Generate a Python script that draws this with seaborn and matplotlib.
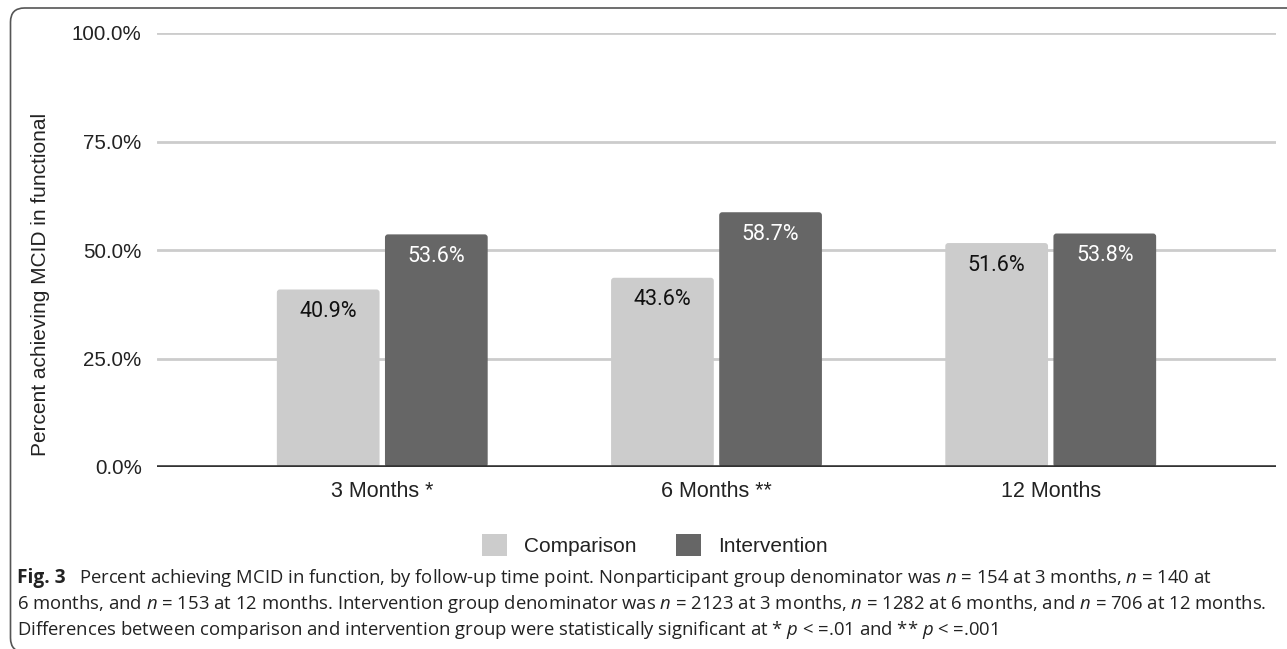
import matplotlib
matplotlib.use("Agg")
import matplotlib.pyplot as plt
import matplotlib.patches as mpatches
from matplotlib.transforms import IdentityTransform
import seaborn as sns
import pandas as pd

# ---- data -------------------------------------------------------------
timepoints = ["3 Months *", "6 Months **", "12 Months"]
groups = ["Comparison", "Intervention"]
comparison_pct = [40.9, 43.6, 51.6]
intervention_pct = [53.6, 58.7, 53.8]
y_ticks = [0, 25, 50, 75, 100]
y_label = "Percent achieving MCID in functional"

colors = {"Comparison": "#cccccc", "Intervention": "#666666"}
label_colors = {"Comparison": "#111111", "Intervention": "#ffffff"}

df = pd.DataFrame({
    "timepoint": timepoints * 2,
    "group": [groups[0]] * 3 + [groups[1]] * 3,
    "pct": comparison_pct + intervention_pct,
})

# ---- figure -----------------------------------------------------------
sns.set_theme(style="white")
plt.rcParams["font.family"] = ["Liberation Sans", "DejaVu Sans"]
plt.rcParams["mathtext.fontset"] = "custom"
plt.rcParams["mathtext.it"] = "Open Sans:italic"
plt.rcParams["mathtext.rm"] = "Open Sans"

W, H = 1287, 649
fig = plt.figure(figsize=(W / 100, H / 100), dpi=100)
ax = fig.add_axes([157 / W, (H - 467) / H, (1276 - 157) / W, (467 - 33) / H])

sns.barplot(data=df, x="timepoint", y="pct", hue="group", order=timepoints,
            hue_order=groups, palette=colors, width=0.647, gap=0.05,
            legend=False, ax=ax, linewidth=0, saturation=1)

ax.set_ylim(0, 100)
ax.set_xlim(-0.674, 2.674)
ax.set_yticks(y_ticks)
ax.set_yticklabels([f"{t:.1f}%" for t in y_ticks], fontsize=14.8, color="#222222")
ax.tick_params(axis="y", length=0, pad=11)
ax.tick_params(axis="x", length=0, pad=10, labelsize=15.5, labelcolor="#222222")
ax.set_xlabel("")
ax.set_ylabel("")
for s in ax.spines.values():
    s.set_visible(False)
ax.yaxis.grid(True, color="#cccccc", linewidth=2)
ax.set_axisbelow(True)
ax.axhline(0, color="#333333", linewidth=2.6, zorder=5)

# rounded-top bars and value labels
for container, grp in zip(ax.containers, groups):
    for rect in container:
        x, w, h = rect.get_x(), rect.get_width(), rect.get_height()
        rb = mpatches.FancyBboxPatch((x, 0), w, h,
                                     boxstyle="round,pad=0,rounding_size=0.009",
                                     mutation_aspect=77, facecolor=colors[grp],
                                     edgecolor="none", zorder=3)
        ax.add_patch(rb)
        rect.set_visible(False)
        ax.annotate(f"{h:.1f}%", xy=(x + w / 2, h), xytext=(0, -16),
                    textcoords="offset points", ha="center", va="center",
                    fontsize=15.5, family=["Roboto", "DejaVu Sans"],
                    color=label_colors[grp], zorder=6)

fig.text(41 / W, (H - 284) / H, y_label, rotation=90, ha="center", va="center",
         fontsize=15, color="#222222")

# legend
handles = [mpatches.Patch(facecolor=colors[g], edgecolor="none") for g in groups]
fig.legend(handles, groups, loc="center", bbox_to_anchor=(655 / W, (H - 545) / H),
           ncol=2, frameon=False, fontsize=15, handlelength=1.2, handleheight=1.2,
           handletextpad=0.8, columnspacing=1.9, labelcolor="#222222")

# caption
cap_font = ["Open Sans", "DejaVu Sans"]
cap_size = 13.3
x0 = 17 / W
fig.text(x0, (H - 578) / H, "Fig. 3", fontsize=cap_size + 0.5, fontweight="bold",
         family=cap_font, va="center", color="#222222")
fig.text(x0 + 62 / W, (H - 578) / H,
         "Percent achieving MCID in function, by follow-up time point. Nonparticipant group "
         "denominator was $n$ = 154 at 3 months, $n$ = 140 at",
         fontsize=cap_size, family=cap_font, va="center", color="#222222")
fig.text(x0, (H - 604) / H,
         "6 months, and $n$ = 153 at 12 months. Intervention group denominator was $n$ = 2123 at "
         "3 months, $n$ = 1282 at 6 months, and $n$ = 706 at 12 months.",
         fontsize=cap_size, family=cap_font, va="center", color="#222222")
fig.text(x0, (H - 630) / H,
         "Differences between comparison and intervention group were statistically significant "
         "at * $p$ < =.01 and ** $p$ < =.001",
         fontsize=cap_size, family=cap_font, va="center", color="#222222")

# outer frame with rounded corners
frame = mpatches.FancyBboxPatch((10.5, -3), 1400, H - 8 + 3,
                                boxstyle="round,pad=0,rounding_size=14",
                                transform=IdentityTransform(), facecolor="none",
                                edgecolor="#555555", linewidth=1.2)
fig.patches.append(frame)

fig.savefig("out.png", dpi=100)
